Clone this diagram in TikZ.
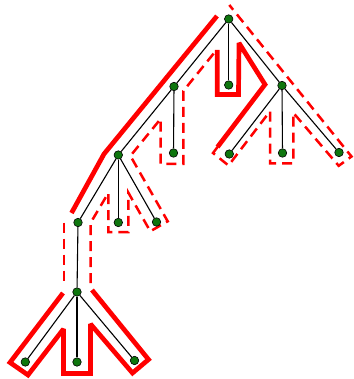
\documentclass[tikz,border=0pt]{standalone}
\definecolor{nodegreen}{RGB}{14,118,14}
\tikzset{
  dot/.style={circle,fill=nodegreen,draw=black,line width=0.6pt,inner sep=0pt,minimum size=8.5pt},
  edge/.style={draw=black,line width=1.1pt},
  heavy/.style={draw=red,line width=4.7pt,miter limit=2},
  light/.style={draw=red,line width=2.5pt,dash pattern=on 10pt off 6pt}
}
\begin{document}
\begin{tikzpicture}[x=1pt,y=-1pt]
\useasboundingbox (0,0) rectangle (353,379);
% contour
\draw[heavy] (217,16) -- (104,154) -- (71.5,213);
\draw[light] (64,222.5) -- (64,283);
\draw[heavy] (63,293) -- (10,362.5) -- (28,375) -- (63.5,329) -- (63.5,373.5) -- (90.5,373.5) -- (90.5,324) -- (132.5,373) -- (148.5,359.5) -- (92,290);
\draw[light] (90.5,283) -- (90.5,223) -- (108.3,193) -- (108.3,232) -- (128.3,232) -- (128.3,192.6) -- (150.3,231.3) -- (167.7,221.3) -- (130.4,155.9) -- (160.7,118.8) -- (160.7,164) -- (183.3,164) -- (183.3,91) -- (216.7,49.8);
\draw[heavy] (217.3,49.8) -- (217.3,94.5) -- (238.5,94.5) -- (239,43) -- (265,84.5) -- (217.5,147);
\draw[light] (217.5,147) -- (213,153) -- (228.5,165.5) -- (270,111.3) -- (270,163.5) -- (293.3,163.5) -- (293.3,112.8) -- (338.7,165.8) -- (351.5,156.5) -- (229.3,5);
% nodes
\node[dot] (R) at (228.7,19) {};
\node[dot] (A) at (174,86.5) {};
\node[dot] (B) at (228.7,85) {};
\node[dot] (C) at (282,85.5) {};
\node[dot] (a1) at (173.5,153) {};
\node[dot] (D) at (118.3,155) {};
\node[dot] (c1) at (229.3,154) {};
\node[dot] (c2) at (282.5,153) {};
\node[dot] (c3) at (339,152.5) {};
\node[dot] (d2) at (118.3,222.5) {};
\node[dot] (d3) at (156.5,222) {};
\node[dot] (E) at (78,222.5) {};
\node[dot] (F) at (77,292) {};
\node[dot] (f1) at (25.3,362) {};
\node[dot] (f2) at (77,362) {};
\node[dot] (f3) at (134.5,360.5) {};
% edges
\draw[edge] (R) -- (A);
\draw[edge] (R) -- (B);
\draw[edge] (R) -- (C);
\draw[edge] (A) -- (D);
\draw[edge] (A) -- (a1);
\draw[edge] (C) -- (c1);
\draw[edge] (C) -- (c2);
\draw[edge] (C) -- (c3);
\draw[edge] (D) -- (E);
\draw[edge] (D) -- (d2);
\draw[edge] (D) -- (d3);
\draw[edge] (E) -- (F);
\draw[edge] (F) -- (f1);
\draw[edge] (F) -- (f2);
\draw[edge] (F) -- (f3);
\end{tikzpicture}
\end{document}
